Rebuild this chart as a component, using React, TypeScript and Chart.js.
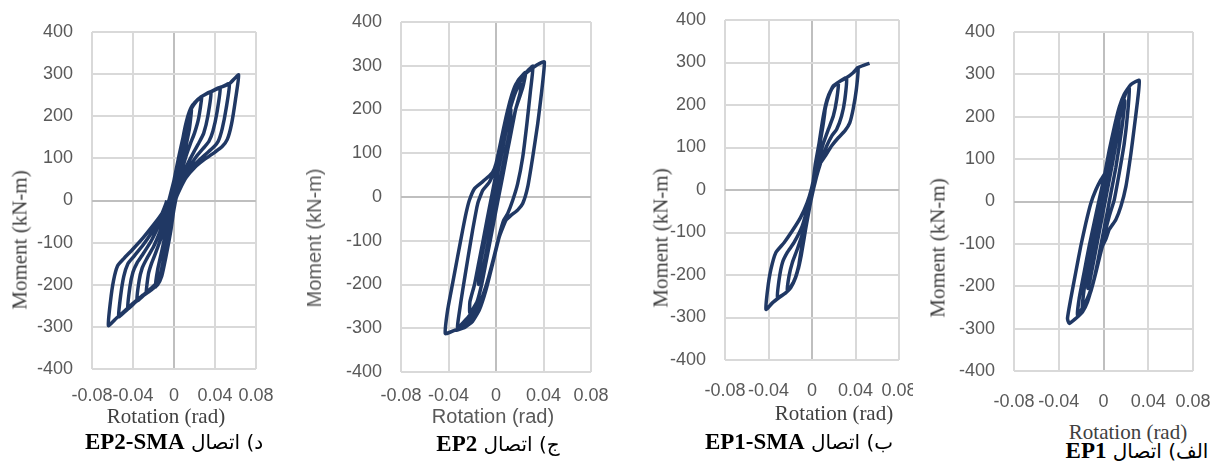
import React, { useEffect, useRef } from "react";
import { Chart, registerables } from "chart.js";

Chart.register(...registerables);

// ---------- axis ticks ----------
const X_TICKS = [-0.08, -0.04, 0, 0.04, 0.08];
const Y_TICKS = [-400, -300, -200, -100, 0, 100, 200, 300, 400];

// ---------- EP2-SMA (panel د) ----------
const EP2_SMA_ROT = [
  0, 0.005, 0.010, 0.013, 0.011, 0.006, 0.001, -0.004, -0.009, -0.013, -0.011, -0.006, -0.001,
  0.004, 0.009, 0.014, 0.017, 0.015, 0.010, 0.005, 0.000, -0.005, -0.010, -0.015, -0.018, -0.016, -0.011, -0.005, -0.002,
  0, 0.004, 0.009, 0.013, 0.017, 0.022, 0.027, 0.024, 0.020, 0.016, 0.011, 0.006, 0.002, -0.003, -0.008, -0.012, -0.016, -0.021, -0.027, -0.025, -0.022, -0.018, -0.012, -0.006, -0.002,
  0.003, 0.008, 0.012, 0.016, 0.020, 0.027, 0.036, 0.033, 0.029, 0.025, 0.020, 0.013, 0.007, 0.002, -0.003, -0.008, -0.012, -0.016, -0.022, -0.029, -0.036, -0.034, -0.031, -0.027, -0.020, -0.013, -0.006, -0.003,
  0.002, 0.007, 0.011, 0.015, 0.019, 0.027, 0.036, 0.045, 0.042, 0.038, 0.034, 0.030, 0.022, 0.014, 0.007, 0.002, -0.003, -0.008, -0.012, -0.016, -0.022, -0.030, -0.038, -0.045, -0.043, -0.040, -0.036, -0.031, -0.022, -0.014, -0.007, -0.004,
  0.001, 0.006, 0.010, 0.014, 0.018, 0.027, 0.036, 0.045, 0.054, 0.051, 0.047, 0.043, 0.038, 0.030, 0.020, 0.012, 0.006, 0.001, -0.004, -0.009, -0.013, -0.017, -0.024, -0.032, -0.040, -0.047, -0.054, -0.052, -0.049, -0.045, -0.040, -0.030, -0.020, -0.012, -0.006, -0.005,
  0.000, 0.005, 0.010, 0.014, 0.018, 0.027, 0.036, 0.045, 0.054, 0.063, 0.060, 0.056, 0.052, 0.047, 0.040, 0.030, 0.020, 0.012, 0.006, 0.002, -0.003, -0.008, -0.012, -0.016, -0.022, -0.030, -0.040, -0.048, -0.056, -0.064, -0.062, -0.059, -0.055, -0.049, -0.040, -0.030, -0.020, -0.012, -0.008, -0.007,
];
const EP2_SMA_MOM = [
  0, 90, 160, 190, 150, 80, 10, -70, -140, -185, -150, -75, 0,
  70, 140, 200, 215, 170, 110, 50, -15, -85, -150, -195, -205, -165, -110, -40, 0,
  0, 70, 135, 185, 218, 236, 247, 195, 160, 135, 100, 55, 15, -70, -135, -180, -200, -210, -220, -175, -150, -125, -85, -40, 0,
  60, 125, 175, 212, 232, 247, 258, 200, 160, 140, 118, 85, 45, 8, -65, -130, -178, -200, -212, -224, -238, -190, -160, -140, -110, -70, -25, 0,
  55, 118, 170, 208, 228, 247, 258, 268, 210, 165, 140, 128, 105, 75, 38, 5, -62, -128, -176, -198, -210, -226, -242, -257, -205, -170, -148, -130, -95, -55, -18, 0,
  50, 112, 165, 204, 226, 247, 258, 268, 277, 220, 170, 140, 125, 108, 85, 58, 28, 0, -60, -125, -172, -196, -212, -229, -246, -262, -276, -225, -180, -150, -135, -105, -70, -40, -10, 0,
  48, 108, 162, 202, 226, 247, 258, 268, 277, 298, 240, 180, 145, 128, 115, 98, 78, 55, 28, 5, -58, -120, -168, -194, -208, -224, -244, -262, -279, -297, -240, -190, -155, -138, -115, -88, -58, -32, -8, 0,
];

// ---------- EP2 (panel ج) ----------
const EP2_ROT = [
  0, 0.0013, 0.0048, 0.0084, 0.0125, 0.0114, 0.0078, 0.0043, 0.0007, -0.0029, -0.0064, -0.010, -0.0146, -0.013, -0.0094, -0.0059, -0.0023,
  -0.0002, 0.0033, 0.0069, 0.0105, 0.0145, 0.020, 0.0205, 0.0165, 0.0129, 0.0093, 0.0058, 0.0022, -0.0014, -0.0049, -0.0085, -0.0121, -0.016, -0.022, -0.022, -0.0181, -0.0145, -0.0109, -0.0074, -0.0038, -0.0002, 0.0033, 0.0069, 0.0105, 0.0145, 0.019, 0.025,
  0.0225, 0.0165, 0.0129, 0.0093, 0.0058, 0.0022, -0.0014, -0.0049, -0.0085, -0.0121, -0.016, -0.022, -0.0323,
  -0.0314, -0.028, -0.0239, -0.0197, -0.0154, -0.0112, -0.0056, -0.0014, 0.004, 0.0085, 0.013, 0.018, 0.024, 0.031,
  0.029, 0.026, 0.0225, 0.0182, 0.014, 0.0098, 0.0065, 0.003, -0.002, -0.008, -0.014, -0.020, -0.028, -0.035, -0.0427,
  -0.0407, -0.0365, -0.0323, -0.0281, -0.0253, -0.0225, -0.0182, -0.0126, -0.007, -0.0028, 0, 0.0042, 0.0084, 0.0126, 0.0168, 0.0225, 0.0295, 0.0351, 0.0407,
  0.0385, 0.0351, 0.0309, 0.0267, 0.0225, 0.0182, 0.0126, 0.0084, 0.0028, -0.0028, -0.0084, -0.014, -0.0197, -0.0267, -0.034,
];
const EP2_MOM = [
  0, 50, 100, 150, 200, 150, 100, 50, 0, -50, -100, -150, -200, -150, -100, -50, 0,
  50, 100, 150, 200, 240, 265, 240, 200, 150, 100, 50, 0, -50, -100, -150, -200, -240, -265, -240, -200, -150, -100, -50, 0, 50, 100, 150, 200, 240, 268, 285,
  250, 200, 150, 100, 50, 0, -50, -100, -150, -200, -240, -270, -299,
  -273, -212, -144, -76, -15, 15, 34, 61, 110, 165, 212, 250, 280, 299,
  242, 167, 91, 30, -8, -38, -53, -85, -140, -200, -245, -275, -298, -305, -312,
  -258, -197, -136, -76, -38, -8, 19, 32, 45, 57, 76, 129, 182, 227, 258, 277, 292, 303, 309,
  242, 167, 91, 23, -15, -30, -42, -53, -91, -152, -212, -258, -284, -299, -305,
];

// ---------- EP1-SMA (panel ب) ----------
const EP1_SMA_ROT = [
  0, 0.003, 0.0065, 0.0095, 0.012, 0.010, 0.007, 0.0035, 0, -0.0035, -0.007, -0.010, -0.0125, -0.0105, -0.0075, -0.004, -0.001,
  0, 0.003, 0.0065, 0.0095, 0.0125, 0.0155, 0.0196, 0.0242, 0.0227, 0.0196, 0.0151, 0.0106, 0.006, 0.002, -0.002, -0.006, -0.009, -0.0121, -0.0151, -0.0196, -0.0227, -0.0211, -0.0181, -0.0136, -0.0075, -0.003, 0,
  0.003, 0.0065, 0.0095, 0.0125, 0.0155, 0.0196, 0.0257, 0.0317, 0.0302, 0.0272, 0.0227, 0.0181, 0.0136, 0.009, 0.004, -0.001, -0.005, -0.009, -0.0121, -0.0151, -0.0196, -0.0242, -0.0317, -0.0302, -0.0272, -0.0227, -0.0166, -0.009, -0.0036, 0,
  0.003, 0.0065, 0.0095, 0.0125, 0.0155, 0.0196, 0.0257, 0.0317, 0.0378, 0.0423, 0.0408, 0.0378, 0.0347, 0.0302, 0.0242, 0.0181, 0.0121, 0.006, 0.002, -0.002, -0.006, -0.009, -0.012, -0.0151, -0.0196, -0.0242, -0.0302, -0.0362, -0.0423, -0.0408, -0.0378, -0.0332, -0.0257, -0.0181, -0.0106, -0.0045, -0.0006,
  0.003, 0.0065, 0.0095, 0.0125, 0.0155, 0.0196, 0.0257, 0.0317, 0.0378, 0.0423, 0.048, 0.0529,
];
const EP1_SMA_MOM = [
  0, 55, 108, 158, 190, 150, 105, 50, -5, -55, -110, -155, -185, -150, -105, -55, -5,
  0, 60, 110, 160, 200, 225, 243, 253, 213, 174, 143, 111, 70, 25, -30, -90, -140, -179, -206, -228, -238, -202, -171, -140, -93, -45, -5,
  50, 105, 155, 198, 223, 244, 256, 264, 213, 174, 143, 127, 104, 72, 30, -25, -80, -135, -177, -205, -229, -242, -253, -210, -171, -147, -124, -85, -38, -3,
  48, 100, 152, 196, 222, 245, 256, 264, 276, 288, 237, 190, 158, 139, 123, 104, 80, 56, 10, -35, -85, -135, -178, -206, -230, -242, -253, -265, -281, -234, -187, -147, -124, -96, -65, -30, 2,
  45, 98, 150, 195, 222, 245, 256, 264, 276, 288, 294, 298,
];

// ---------- EP1 (panel الف) ----------
const EP1_ROT = [
  0, 0.004, 0.008, 0.012, 0.014, 0.012, 0.008, 0.004, 0, -0.004, -0.008, -0.012, -0.014, -0.012, -0.008, -0.004, 0,
  0, 0.003, 0.007, 0.011, 0.014, 0.017, 0.019, 0.017, 0.014, 0.011, 0.007, 0.003, -0.001, -0.005, -0.009, -0.013, -0.017, -0.019,
  -0.017, -0.014, -0.010, -0.006, -0.002, 0.002, 0.0055, 0.0096, 0.014, 0.0185, 0.023,
  0.0215, 0.0185, 0.014, 0.0096, 0.0051, 0.0006, -0.0039, -0.0099, -0.0173, -0.0233,
  -0.0218, -0.0173, -0.0128, -0.0084, -0.0039, 0.0006, 0.0051, 0.0096, 0.014, 0.0185, 0.0245, 0.0319,
  0.0304, 0.0275, 0.0245, 0.02, 0.0155, 0.011, 0.0051, 0.0021, -0.0009, -0.0054, -0.0099, -0.0143, -0.0188, -0.0248, -0.0307,
  -0.0322, -0.0293, -0.0248, -0.0203, -0.0158, -0.0113, -0.0069, -0.0024, 0.0021, 0.0066, 0.011, 0.0155, 0.02,
];
const EP1_MOM = [
  0, 60, 120, 175, 195, 150, 90, 35, -20, -75, -130, -185, -205, -160, -100, -45, 5,
  0, 35, 90, 150, 195, 225, 238, 185, 130, 80, 25, -30, -85, -140, -190, -225, -245, -252,
  -200, -150, -95, -40, 15, 65, 121, 175, 222, 253, 268,
  206, 136, 66, 4, -35, -82, -136, -198, -245, -268,
  -230, -167, -105, -51, 4, 58, 121, 175, 222, 253, 276, 286,
  237, 175, 113, 35, -12, -43, -66, -89, -105, -152, -198, -237, -261, -276, -288,
  -276, -230, -167, -105, -51, -4, 27, 51, 70, 113, 167, 222, 257,
];

// ---------- text ----------
const X_TITLE = "Rotation (rad)";
const Y_TITLE = "Moment (kN-m)";
const CAPTION_PREFIX = ["د) اتصال ", "ج) اتصال ", "ب) اتصال ", "الف) اتصال "];
const CAPTION_NAME = ["EP2-SMA", "EP2", "EP1-SMA", "EP1"];

const NAVY = "#203864";
const SERIF = "'Liberation Serif', 'Times New Roman', serif";
const SANS = "'Liberation Sans', Arial, sans-serif";

type Layout = {
  L: number; R: number; T: number; B: number; pr: number; xPad: number;
  titleFont: string;
  xt: [number, number]; yt: [number, number]; cap: [number, number];
};

const LAYOUTS: Layout[] = [
  { L: 92, R: 256, T: 32, B: 369, pr: 25, xPad: 16, titleFont: SERIF, xt: [166, 416], yt: [20, 240], cap: [174, 441] },
  { L: 401, R: 591, T: 22, B: 372, pr: 25, xPad: 13, titleFont: SANS, xt: [493, 416], yt: [314, 238], cap: [498, 443] },
  { L: 725, R: 899, T: 20, B: 360, pr: 14, xPad: 20, titleFont: SERIF, xt: [834, 413], yt: [661, 238], cap: [799, 441] },
  { L: 1014, R: 1193, T: 32, B: 371, pr: 25, xPad: 20, titleFont: SERIF, xt: [1128, 432], yt: [938, 248], cap: [1137, 450] },
];

const SERIES: [number[], number[]][] = [
  [EP2_SMA_ROT, EP2_SMA_MOM],
  [EP2_ROT, EP2_MOM],
  [EP1_SMA_ROT, EP1_SMA_MOM],
  [EP1_ROT, EP1_MOM],
];

const YW = 80;
const PT = 14;
const XH = 48;

function gridColor(c: any) {
  return c.tick && c.tick.value === 0 ? "#bfbfbf" : "#d9d9d9";
}

function HysteresisChart({ rot, mom, lay }: { rot: number[]; mom: number[]; lay: Layout }) {
  const ref = useRef<HTMLCanvasElement | null>(null);
  const w = YW + (lay.R - lay.L) + lay.pr;
  const h = PT + (lay.B - lay.T) + XH;
  useEffect(() => {
    if (!ref.current) return;
    const chart = new Chart(ref.current, {
      type: "scatter",
      data: {
        datasets: [
          {
            data: rot.map((x, i) => ({ x, y: mom[i] })),
            showLine: true,
            borderColor: NAVY,
            backgroundColor: NAVY,
            borderWidth: 3.5,
            pointRadius: 0,
            pointHoverRadius: 0,
            tension: 0.15,
            fill: false,
          } as any,
        ],
      },
      options: {
        animation: false,
        responsive: false,
        maintainAspectRatio: false,
        layout: { padding: { top: PT, right: lay.pr, left: 0, bottom: 0 } },
        plugins: { legend: { display: false }, tooltip: { enabled: false } },
        scales: {
          x: {
            type: "linear",
            min: X_TICKS[0],
            max: X_TICKS[X_TICKS.length - 1],
            afterBuildTicks: (s: any) => {
              s.ticks = X_TICKS.map((v) => ({ value: v }));
            },
            afterFit: (s: any) => {
              s.height = XH;
              s.paddingLeft = 0;
              s.paddingRight = 0;
            },
            ticks: {
              autoSkip: false,
              maxRotation: 0,
              minRotation: 0,
              padding: lay.xPad,
              color: "#595959",
              font: { family: SANS, size: 18 },
              callback: (v: any) => (Number(v) === 0 ? "0" : Number(v).toFixed(2)),
            },
            grid: { color: gridColor, lineWidth: 2, drawTicks: false },
            border: { display: false },
          },
          y: {
            type: "linear",
            min: Y_TICKS[0],
            max: Y_TICKS[Y_TICKS.length - 1],
            afterBuildTicks: (s: any) => {
              s.ticks = Y_TICKS.map((v) => ({ value: v }));
            },
            afterFit: (s: any) => {
              s.width = YW;
              s.paddingTop = 0;
              s.paddingBottom = 0;
            },
            ticks: {
              autoSkip: false,
              padding: 19,
              color: "#595959",
              font: { family: SANS, size: 18 },
              callback: (v: any) => String(v),
            },
            grid: { color: gridColor, lineWidth: 2, drawTicks: false },
            border: { display: false },
          },
        },
      },
    });
    return () => chart.destroy();
  }, [rot, mom, lay]);
  return (
    <canvas
      ref={ref}
      width={w}
      height={h}
      style={{ position: "absolute", left: lay.L - YW, top: lay.T - PT, width: w, height: h }}
    />
  );
}

function centered(x: number, y: number, extra: React.CSSProperties = {}): React.CSSProperties {
  return {
    position: "absolute",
    left: x,
    top: y,
    transform: "translate(-50%, -50%)",
    whiteSpace: "nowrap",
    lineHeight: 1,
    ...extra,
  };
}

export default function App() {
  return (
    <div
      style={{
        position: "fixed",
        left: 0,
        top: 0,
        width: 1220,
        height: 462,
        background: "#ffffff",
        overflow: "hidden",
      }}
    >
      {LAYOUTS.map((lay, i) => (
        <React.Fragment key={i}>
          <HysteresisChart rot={SERIES[i][0]} mom={SERIES[i][1]} lay={lay} />
          <div
            style={centered(lay.xt[0], lay.xt[1], {
              fontFamily: lay.titleFont,
              fontSize: lay.titleFont === SANS ? 20 : 21,
              color: lay.titleFont === SANS ? "#595959" : "#404040",
            })}
          >
            {X_TITLE}
          </div>
          <div
            style={{
              ...centered(lay.yt[0], lay.yt[1], {
                fontFamily: lay.titleFont,
                fontSize: lay.titleFont === SANS ? 20 : 21,
                color: lay.titleFont === SANS ? "#595959" : "#404040",
              }),
              transform: "translate(-50%, -50%) rotate(-90deg)",
            }}
          >
            {Y_TITLE}
          </div>
          <div dir="rtl" style={centered(lay.cap[0], lay.cap[1], { color: "#000" })}>
            <span style={{ fontFamily: "'DejaVu Sans', 'Noto Sans', sans-serif", fontSize: 20 }}>
              {CAPTION_PREFIX[i]}
            </span>
            <b style={{ fontFamily: SERIF, fontSize: 23 }}>{CAPTION_NAME[i]}</b>
          </div>
        </React.Fragment>
      ))}
    </div>
  );
}
